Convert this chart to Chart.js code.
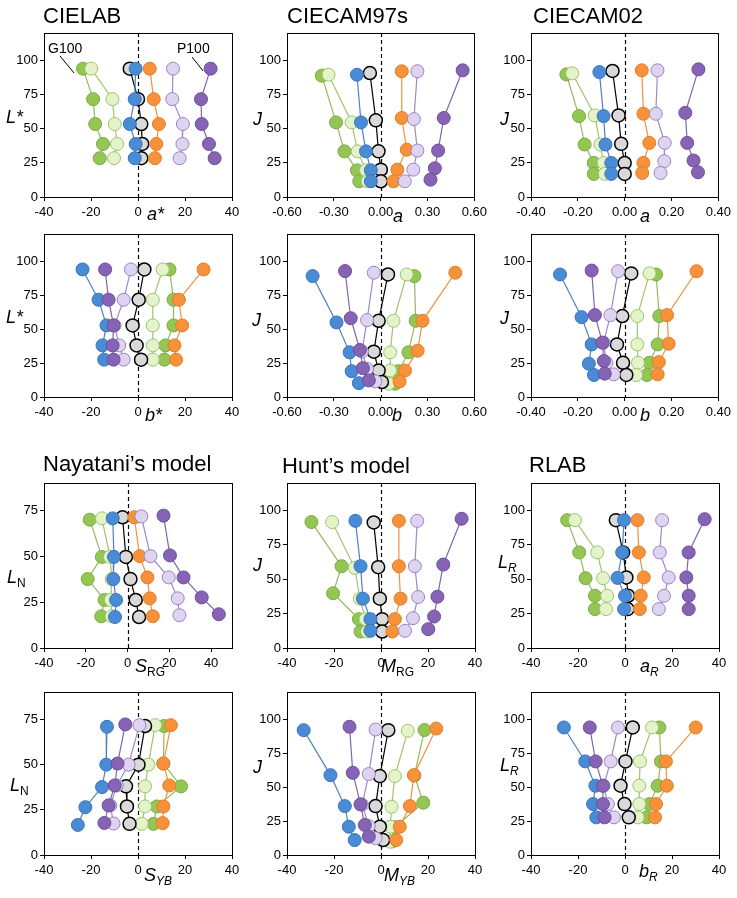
<!DOCTYPE html>
<html>
<head>
<meta charset="utf-8">
<script src="https://cdn.jsdelivr.net/npm/chart.js@4.4.0/dist/chart.umd.min.js"></script>
<style>
  body{margin:0;background:#fff;width:737px;height:898px;position:relative;overflow:hidden;
       font-family:'Liberation Sans',Arial,Helvetica,sans-serif;color:#000}
  canvas{position:absolute}
  .ttl{position:absolute;font-size:22px;line-height:1;white-space:nowrap;z-index:2}
  .ax{position:absolute;font-size:18px;line-height:1;font-style:italic;white-space:nowrap;z-index:2}
  .ax sub{font-size:12px;vertical-align:-4px;line-height:1}
  .ax sub.up{font-style:normal}
  .note{position:absolute;font-size:14px;line-height:1;white-space:nowrap;z-index:2}
</style>
</head>
<body>
<script>
// series order: G100, G50 (light green), blue, neutral, orange, P50 (light purple), P100
const seriesNames = ['G100','G50','B','N','O','P50','P100'];

// tick labels
const xTicks40 = [-40,-20,0,20,40];
const xTicks06 = [-0.6,-0.3,0,0.3,0.6];
const xTicks04 = [-0.4,-0.2,0,0.2,0.4];
const yTicks100 = [0,25,50,75,100];
const yTicks75 = [0,25,50,75];

// ---- CIELAB a* / L*
const labA_x = [
  [-23.4,-19.1,-18.2,-14.9,-16.3],
  [-19.9,-10.9,-9.9,-8.9,-10.2],
  [-1.0,-1.4,-3.5,-1.0,-1.4],
  [-3.5,0,1.4,1.8,1.4],
  [5.0,6.7,8.9,7.8,7.2],
  [14.9,14.6,19.1,18.9,17.7],
  [30.9,26.8,27.1,30.2,32.6]];
const labA_y = [
  [93.9,71.6,53.4,38.8,28.4],[93.9,71.6,53.4,38.8,28.4],[93.9,71.6,53.4,38.8,28.4],
  [93.9,71.6,53.4,38.8,28.4],[93.9,71.6,53.4,38.8,28.4],[93.9,71.6,53.4,38.8,28.4],
  [93.9,71.6,53.4,38.8,28.4]];

// ---- CIECAM97s a / J
const c97A_x = [
  [-0.377,-0.286,-0.232,-0.152,-0.137],
  [-0.334,-0.186,-0.148,-0.094,-0.084],
  [-0.152,-0.126,-0.094,-0.063,-0.063],
  [-0.069,-0.031,-0.014,0.001,0.001],
  [0.135,0.135,0.167,0.107,0.082],
  [0.235,0.213,0.235,0.209,0.154],
  [0.525,0.404,0.368,0.347,0.319]];
const c97A_y = [
  [88.8,54.6,33.4,19.5,11.5],[89.5,54.6,33.4,19.5,11.5],[89.5,54.6,33.4,19.5,11.5],
  [90.7,56.1,33.4,20,11.5],[92,57.8,34.6,20,11.5],[92,57,34,20,11.5],
  [92.7,57.8,34,21,12.7]];

// ---- CIECAM02 a / J
const c02A_x = [
  [-0.249,-0.195,-0.171,-0.132,-0.132],
  [-0.224,-0.128,-0.104,-0.090,-0.085],
  [-0.108,-0.090,-0.082,-0.057,-0.057],
  [-0.052,-0.026,-0.015,0,0],
  [0.073,0.080,0.105,0.080,0.075],
  [0.140,0.133,0.171,0.169,0.153],
  [0.315,0.259,0.267,0.294,0.313]];
const c02A_y = [
  [89.7,59.2,38.4,24.9,16.9],[90.5,59.7,38.4,24.9,16.9],[91.4,59.2,38.4,24.9,16.9],
  [92.2,59.7,38.9,24.9,16.9],[92.7,60.9,39.6,24.9,17.6],[92.7,60.9,39.6,26.2,17.6],
  [93.4,61.6,39.6,26.7,18.1]];

// ---- CIELAB b* / L*
const labB_x = [
  [13.4,15.1,15.1,11.7,11.2],
  [10.5,6.3,6.3,6.3,6.3],
  [-23.6,-16.8,-13.4,-15.1,-14.4],
  [2.7,0.3,-2.3,-0.6,1.3],
  [27.9,17.4,18.8,15.5,16.2],
  [-3.0,-6.1,-10.0,-8.0,-6.1],
  [-14.0,-12.5,-10.4,-10.8,-10.4]];
const labB_y = [
  [93.9,71.6,52.7,38,27.5],[93.9,71.6,52.7,38,27.5],[93.9,71.6,52.7,38,27.5],
  [93.9,71.6,52.7,38,27.5],[93.9,71.6,52.7,38,27.5],[93.9,71.6,52.7,38,27.5],
  [93.9,71.6,52.7,38,27.5]];

// ---- CIECAM97s b / J
const c97B_x = [
  [0.216,0.224,0.178,0.114,0.093],
  [0.167,0.082,0.061,0.061,0.051],
  [-0.436,-0.283,-0.199,-0.186,-0.140],
  [0.047,-0.013,-0.044,-0.013,0.008],
  [0.478,0.268,0.237,0.156,0.121],
  [-0.044,-0.087,-0.12,-0.087,-0.034],
  [-0.228,-0.192,-0.133,-0.114,-0.076]];
const c97B_y = [
  [89,56.1,32.9,19,9.8],[90.2,56.1,32.9,19.5,9.8],[89,54.9,32.9,19,10.2],
  [90.2,56.1,33.4,19.5,11],[91.5,56.1,34.1,19.5,11.5],[91.5,56.6,33.5,20.7,11.5],
  [92.7,58,34.6,21.2,12.2]];

// ---- CIECAM02 b / J
const c02B_x = [
  [0.134,0.148,0.141,0.106,0.095],
  [0.106,0.054,0.054,0.057,0.049],
  [-0.276,-0.184,-0.141,-0.153,-0.131],
  [0.028,-0.010,-0.033,-0.007,0.007],
  [0.307,0.181,0.188,0.146,0.141],
  [-0.028,-0.061,-0.090,-0.078,-0.047],
  [-0.141,-0.127,-0.095,-0.089,-0.085]];
const c02B_y = [
  [90.2,59.6,38.7,25.2,16.2],[91,59.6,38.7,25.2,16.2],[90.2,58.8,38.7,24.5,16.2],
  [91,59.6,38.7,25.2,16.2],[92.6,60.3,39.2,25.7,16.7],[92.6,60.3,40,25.2,16.7],
  [93.1,60.3,40,26.5,17.2]];

// ---- Nayatani S_RG / L_N
const nayRG_x = [
  [-18.1,-12.3,-19.1,-11.0,-12.6],
  [-12.3,-8.4,-7.6,-8.0,-7.6],
  [-7.1,-6.5,-6.8,-5.5,-6.0],
  [-2.4,-0.8,1.4,3.9,5.5],
  [3.2,5.8,9.5,10.6,12.1],
  [6.6,11.0,19.7,24.0,24.8],
  [17.2,20.3,26.8,35.5,43.7]];
const nayRG_y = [
  [70,49.7,37.6,26.2,17.3],[70.7,49.7,37.6,26.2,17.3],[70.7,49.7,37.6,26.2,16.9],
  [71.3,49.7,37.6,26.2,16.9],[71.3,50.1,38.5,27.1,17.3],[71.8,50.1,38.5,27.1,17.9],
  [72.2,50.5,38.5,27.6,18.4]];

// ---- Hunt M_RG / J
const huntRG_x = [
  [-29.6,-16.8,-20.4,-9.4,-8.7],
  [-20.8,-11.2,-9.0,-6.6,-5.9],
  [-10.9,-8.7,-7.7,-4.5,-4.5],
  [-3.1,-1.2,-0.5,0.5,0.5],
  [7.6,7.6,8.3,5.9,4.8],
  [15.4,14.4,15.8,13.6,10.2],
  [34.3,26.5,24.0,22.6,20.1]];
const huntRG_y = [
  [91.6,59.5,39.8,21,12],[91.6,58.3,35.9,21,12],[92.5,59.5,35.9,21,12.5],
  [91.3,58.8,35.9,21,12],[92.5,59.5,35.9,21,12],[92.5,59.5,37.1,21.7,12.5],
  [94,60.7,37.3,22.9,13.7]];

// ---- RLAB a_R / L_R
const rlabA_x = [
  [-24.6,-19.5,-16.8,-12.8,-12.8],
  [-21.3,-11.8,-9.3,-7.6,-8.1],
  [-0.4,-1.2,-3.2,0,-0.4],
  [-3.9,-0.8,0.6,1.3,1.1],
  [5.3,5.9,8.0,6.7,6.3],
  [15.8,14.8,18.6,16.6,14.4],
  [33.9,27.1,26.1,27.1,27.1]];
const rlabA_y = [
  [93,69.5,50.8,38,28.3],[93,69.5,50.8,38,28.3],[93,69.5,51,38,28.3],
  [93,69.5,51.3,38,28.3],[93,69.5,51.3,38,28.3],[93,69.5,51.3,38,28.3],
  [93.7,69.5,51.3,38,28.3]];

// ---- Nayatani S_YB / L_N
const nayYB_x = [
  [11.1,10.8,18.3,8.0,6.6],
  [7.3,4.4,3.0,3.0,1.6],
  [-13.2,-13.5,-15.3,-22.4,-25.6],
  [3.0,0.2,-5.1,-4.7,-3.6],
  [14.0,10.8,13.3,10.8,10.5],
  [0.6,-4.0,-9.0,-11.8,-10.4],
  [-5.4,-8.7,-9.9,-12.5,-14.3]];
const nayYB_y = [
  [71.2,50.5,37.9,26.8,17.2],[71.7,49.9,37.9,26.8,17.2],[70.8,49.9,37.5,26.4,16.6],
  [71.2,49.9,37.9,26.8,17.2],[71.7,50.5,38.4,26.8,17.6],[71.7,49.9,38.4,27.4,17.4],
  [72.1,50.5,38.4,27.4,17.7]];

// ---- Hunt M_YB / J
const huntYB_x = [
  [18.5,14.2,18.0,6.0,4.8],
  [11.4,5.9,4.5,4.0,3.8],
  [-32.9,-21.5,-15.4,-13.7,-11.2],
  [3.1,-0.5,-2.3,-0.5,0.9],
  [23.5,14.0,12.3,8.0,6.5],
  [-2.3,-5.2,-8.0,-5.2,-2.3],
  [-13.4,-12.0,-8.7,-6.9,-5.2]];
const huntYB_y = [
  [92,58.5,38.5,20.5,10],[91.4,58.1,35.5,20.8,9.8],[91.9,58.8,36,20.8,11],
  [91.9,58.1,36,20.8,11],[93.1,58.8,36,20.8,11],[92.4,59.6,37,21.3,12.3],
  [94.4,60.5,37.3,22.1,13.5]];

// ---- RLAB b_R / L_R
const rlabB_x = [
  [14.6,15.3,13.9,10.4,9.2],
  [11.5,6.4,6.1,6.1,5.4],
  [-26,-16.9,-12.6,-13.6,-12.2],
  [3.3,0.2,-1.9,-0.2,1.6],
  [30.1,17.4,17.8,13.2,12.8],
  [-3.0,-6.1,-9.1,-7.3,-4.7],
  [-15,-12.5,-9.4,-9.4,-8.7]];
const rlabB_y = [
  [93.9,68.9,51,37.5,27.7],[93.9,68.9,51,37.5,27.7],[93.9,68.9,51,37.5,27.7],
  [93.9,68.9,51,37.5,27.7],[93.9,68.9,51,37.5,27.7],[93.9,68.9,51,37.5,27.7],
  [93.9,68.9,51,37.5,27.7]];

// ---------------------------------------------------------------
const fills   = ['#93C653','#E4F3CA','#4A8BD5','#D9D9D9','#F7923A','#DED4EF','#8663B5'];
const borders = ['#7BAA45','#9CC46C','#3A75BC','#000000','#E07E2C','#9884C4','#6D4F9C'];
const lines   = ['#94B95C','#A2C46F','#4F81C0','#000000','#F2913F','#9C89C7','#8066AD'];
const drawOrder = [7,6,4,5,3,2,1];   // lower = drawn on top

const colLeft = [44, 287, 531];
const rowTop  = [33, 234, 483, 692];
const rowH    = [164, 163, 165, 163];
const plotW   = 188;
const FONT = "'Liberation Sans', Arial, Helvetica, sans-serif";

const framePlugin = {
  id:'frame',
  beforeDatasetsDraw(c, args, opts){
    const {ctx, chartArea:a} = c;
    const x0 = Math.round(c.scales.x.getPixelForValue(0)) + 0.5;
    ctx.save();
    ctx.strokeStyle = '#000';
    ctx.lineWidth = 1.2;
    ctx.setLineDash([4,3]);
    ctx.beginPath(); ctx.moveTo(x0, a.top); ctx.lineTo(x0, a.bottom); ctx.stroke();
    ctx.setLineDash([]);
    ctx.lineWidth = 1;
    ctx.strokeRect(Math.round(a.left)+0.5, Math.round(a.top)+0.5, Math.round(a.width), Math.round(a.height));
    // leader lines for G100 / P100 labels
    (opts.leaders || []).forEach(l=>{
      ctx.beginPath();
      ctx.moveTo(c.scales.x.getPixelForValue(l[0]), c.scales.y.getPixelForValue(l[1]));
      ctx.lineTo(c.scales.x.getPixelForValue(l[2]), c.scales.y.getPixelForValue(l[3]));
      ctx.stroke();
    });
    ctx.restore();
  }
};

function makePanel(p){
  const W = 48 + plotW + 16, H = 10 + rowH[p.row] + 28;
  const cv = document.createElement('canvas');
  cv.width = W; cv.height = H;
  cv.style.left = (colLeft[p.col]-48)+'px';
  cv.style.top = (rowTop[p.row]-10)+'px';
  document.body.appendChild(cv);

  const datasets = p.x.map((xs,i)=>({
    label: seriesNames[i],
    data: xs.map((v,j)=>({x:v, y:p.y[i][j]})),
    showLine: true,
    borderColor: lines[i],
    borderWidth: 1.2,
    pointBackgroundColor: fills[i],
    pointBorderColor: borders[i],
    pointBorderWidth: i===3 ? 1.5 : 1,
    pointRadius: 6.5,
    order: drawOrder[i]
  }));

  const tickFont = {family:FONT, size:13};
  new Chart(cv, {
    type:'scatter',
    data:{datasets},
    options:{
      responsive:false,
      animation:false,
      devicePixelRatio:1,
      layout:{padding:{top:10, right:16, left:0, bottom:0}},
      plugins:{legend:{display:false}, tooltip:{enabled:false}, frame:{leaders:p.leaders||[]}},
      scales:{
        x:{
          type:'linear', min:p.xr[0], max:p.xr[1],
          afterFit: s => { s.height = 28; },
          afterBuildTicks: s => { s.ticks = p.xt.map(v=>({value:v})); },
          ticks:{callback: v => p.dec ? v.toFixed(p.dec) : String(v), font:tickFont, color:'#000',
                 padding:4, maxRotation:0, autoSkip:false},
          grid:{drawOnChartArea:false, drawTicks:true, tickLength:4, color:'#000'},
          border:{display:false}
        },
        y:{
          type:'linear', min:0, max:p.ymax,
          afterFit: s => { s.width = 48; },
          afterBuildTicks: s => { s.ticks = p.yt.map(v=>({value:v})); },
          ticks:{font:tickFont, color:'#000', padding:2},
          grid:{drawOnChartArea:false, drawTicks:true, tickLength:4, color:'#000'},
          border:{display:false}
        }
      }
    },
    plugins:[framePlugin]
  });
}

const panels = [
  {x:labA_x,  y:labA_y,  col:0,row:0, xr:[-40,40],   xt:xTicks40, dec:0, yt:yTicks100, ymax:120,
   leaders:[[-33.2,103.2,-27.2,90.7],[23.0,102.4,27.7,92.2]]},
  {x:c97A_x,  y:c97A_y,  col:1,row:0, xr:[-0.6,0.6], xt:xTicks06, dec:2, yt:yTicks100, ymax:120},
  {x:c02A_x,  y:c02A_y,  col:2,row:0, xr:[-0.4,0.4], xt:xTicks04, dec:2, yt:yTicks100, ymax:120},
  {x:labB_x,  y:labB_y,  col:0,row:1, xr:[-40,40],   xt:xTicks40, dec:0, yt:yTicks100, ymax:120},
  {x:c97B_x,  y:c97B_y,  col:1,row:1, xr:[-0.6,0.6], xt:xTicks06, dec:2, yt:yTicks100, ymax:120},
  {x:c02B_x,  y:c02B_y,  col:2,row:1, xr:[-0.4,0.4], xt:xTicks04, dec:2, yt:yTicks100, ymax:120},
  {x:nayRG_x, y:nayRG_y, col:0,row:2, xr:[-40,50],   xt:xTicks40, dec:0, yt:yTicks75,  ymax:90},
  {x:huntRG_x,y:huntRG_y,col:1,row:2, xr:[-40,40],   xt:xTicks40, dec:0, yt:yTicks100, ymax:120},
  {x:rlabA_x, y:rlabA_y, col:2,row:2, xr:[-40,40],   xt:xTicks40, dec:0, yt:yTicks100, ymax:120},
  {x:nayYB_x, y:nayYB_y, col:0,row:3, xr:[-40,40],   xt:xTicks40, dec:0, yt:yTicks75,  ymax:90},
  {x:huntYB_x,y:huntYB_y,col:1,row:3, xr:[-40,40],   xt:xTicks40, dec:0, yt:yTicks100, ymax:120},
  {x:rlabB_x, y:rlabB_y, col:2,row:3, xr:[-40,40],   xt:xTicks40, dec:0, yt:yTicks100, ymax:120}
];
panels.forEach(makePanel);

// ---- text
function addText(cls, html, left, top){
  const d = document.createElement('div');
  d.className = cls;
  d.innerHTML = html;
  d.style.left = left+'px';
  d.style.top = top+'px';
  document.body.appendChild(d);
}
addText('ttl','CIELAB',43,5);
addText('ttl','CIECAM97s',287,5);
addText('ttl','CIECAM02',533,5);
addText('ttl','Nayatani\u2019s model',43,453);
addText('ttl','Hunt\u2019s model',282,455);
addText('ttl','RLAB',529,454);

addText('note','G100',48,41);
addText('note','P100',177,41);

// y-axis titles
addText('ax','L*',6,108);
addText('ax','J',253,110);
addText('ax','J',500,110);
addText('ax','L*',6,308);
addText('ax','J',252,311);
addText('ax','J',500,309);
addText('ax','L<sub class="up">N</sub>',7,568);
addText('ax','J',253,556);
addText('ax','L<sub>R</sub>',498,553);
addText('ax','L<sub class="up">N</sub>',10,776);
addText('ax','J',253,758);
addText('ax','L<sub>R</sub>',500,756);

// x-axis titles
addText('ax','a*',147,205);
addText('ax','a',393,207);
addText('ax','a',640,207);
addText('ax','b*',145,406);
addText('ax','b',392,406);
addText('ax','b',640,406);
addText('ax','S<sub class="up">RG</sub>',135,657);
addText('ax','M<sub class="up">RG</sub>',381,657);
addText('ax','a<sub>R</sub>',640,657);
addText('ax','S<sub>YB</sub>',144,866);
addText('ax','M<sub>YB</sub>',384,866);
addText('ax','b<sub>R</sub>',639,862);
</script>
</body>
</html>
